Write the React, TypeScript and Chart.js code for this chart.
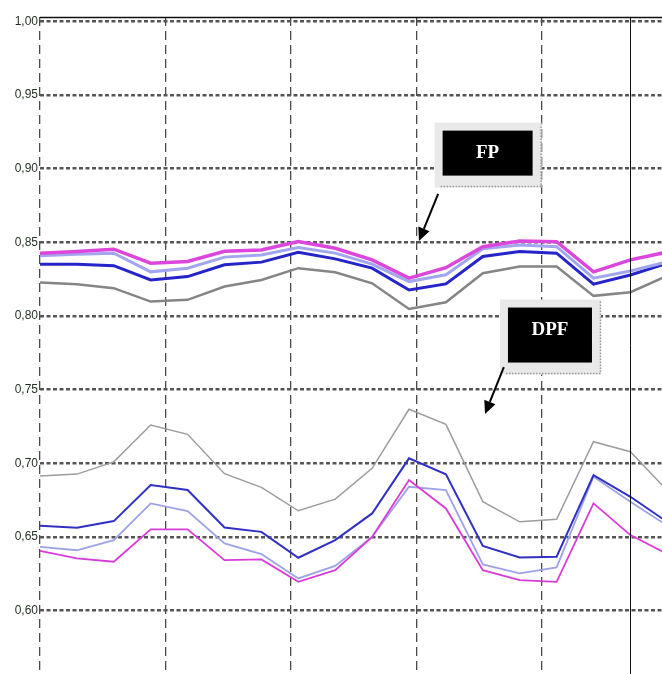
import React, { useEffect, useRef } from "react";
import { Chart, registerables } from "chart.js";

Chart.register(...registerables);

// sample index along the horizontal axis
const xIndex = [0, 1, 2, 3, 4, 5, 6, 7, 8, 9, 10, 11, 12, 13, 14, 15, 16, 17];
// vertical grid positions (in sample-index units)
const xGridValues = [0, 3.4, 6.8, 10.2, 13.6];
// y tick values and labels
const yTickValues = [0.6, 0.65, 0.7, 0.75, 0.8, 0.85, 0.9, 0.95, 1.0];
const yTickLabels = ["0,60", "0,65", "0,70", "0,75", "0,80", "0,85", "0,90", "0,95", "1,00"];

// FP group (upper)
const fpMagenta = [0.8427, 0.8438, 0.8454, 0.8359, 0.837, 0.844, 0.8449, 0.8505, 0.846, 0.8381, 0.8257, 0.8328, 0.8471, 0.851, 0.8505, 0.83, 0.8381, 0.8435];
const fpLightBlue = [0.841, 0.842, 0.8427, 0.83, 0.8325, 0.84, 0.8415, 0.8465, 0.8427, 0.8352, 0.8234, 0.828, 0.8456, 0.8483, 0.8471, 0.8257, 0.8306, 0.8368];
const fpBlue = [0.8352, 0.8352, 0.8342, 0.8245, 0.8268, 0.8348, 0.8366, 0.8433, 0.8388, 0.8325, 0.8177, 0.8218, 0.8404, 0.8438, 0.8427, 0.8216, 0.8279, 0.8358];
const fpGray = [0.8227, 0.8216, 0.8189, 0.8098, 0.811, 0.82, 0.8245, 0.8325, 0.8297, 0.8222, 0.8048, 0.8093, 0.8291, 0.8336, 0.8336, 0.8137, 0.8162, 0.8273];

// DPF group (lower)
const dpfGray = [0.6914, 0.6927, 0.701, 0.726, 0.7197, 0.693, 0.6837, 0.6678, 0.6757, 0.6966, 0.7367, 0.7265, 0.674, 0.6603, 0.662, 0.7147, 0.7079, 0.6815];
const dpfBlue = [0.6576, 0.6563, 0.6608, 0.6853, 0.6819, 0.6565, 0.6535, 0.6359, 0.6479, 0.666, 0.7034, 0.6925, 0.644, 0.6361, 0.6366, 0.692, 0.6773, 0.6602];
const dpfLightBlue = [0.6433, 0.641, 0.6479, 0.6728, 0.6676, 0.6457, 0.6384, 0.6219, 0.6304, 0.6501, 0.6841, 0.6819, 0.6314, 0.6253, 0.6294, 0.6909, 0.6739, 0.6577];
const dpfMagenta = [0.6406, 0.6355, 0.6332, 0.6552, 0.6552, 0.6343, 0.6348, 0.6196, 0.6275, 0.65, 0.6887, 0.6694, 0.6275, 0.6207, 0.6196, 0.6728, 0.6513, 0.6385];

const annotations = [
  { label: "FP", x: 12.13, y: 0.9106, w: 90, h: 45, textDy: 0, from: [10.79, 0.883], to: [10.27, 0.851] },
  { label: "DPF", x: 13.82, y: 0.7871, w: 84, h: 55, textDy: -5, from: [12.57, 0.7654], to: [12.06, 0.7335] },
];

const toPoints = (arr: number[]) => arr.map((v, i) => ({ x: xIndex[i], y: v }));

const extrasPlugin = {
  id: "extras",
  afterDatasetsDraw(chart: any) {
    const { ctx, chartArea, scales } = chart;
    const xs = scales.x;
    const ys = scales.y;
    ctx.save();
    // top solid border
    ctx.strokeStyle = "#111";
    ctx.lineWidth = 1.5;
    ctx.setLineDash([]);
    ctx.beginPath();
    ctx.moveTo(chartArea.left, chartArea.top + 0.5);
    ctx.lineTo(chartArea.right, chartArea.top + 0.5);
    ctx.stroke();
    // solid vertical line
    const sx = Math.round(xs.getPixelForValue(16)) + 0.5;
    ctx.lineWidth = 1;
    ctx.beginPath();
    ctx.moveTo(sx, chartArea.top);
    ctx.lineTo(sx, chartArea.bottom);
    ctx.stroke();

    for (const a of annotations) {
      const cx = xs.getPixelForValue(a.x);
      const cy = ys.getPixelForValue(a.y);
      const l = cx - a.w / 2;
      const t = cy - a.h / 2;
      // frame
      ctx.fillStyle = "#e9e9e9";
      ctx.fillRect(l - 8, t - 8, a.w + 17, a.h + 20);
      ctx.strokeStyle = "#9a9a9a";
      ctx.lineWidth = 1.5;
      ctx.setLineDash([1.5, 1.5]);
      ctx.beginPath();
      ctx.moveTo(l - 2, t + a.h + 11);
      ctx.lineTo(l + a.w + 8.5, t + a.h + 11);
      ctx.lineTo(l + a.w + 8.5, t - 6);
      ctx.stroke();
      ctx.setLineDash([]);
      // black box
      ctx.fillStyle = "#000";
      ctx.fillRect(l, t, a.w, a.h);
      ctx.fillStyle = "#fff";
      ctx.font = "bold 19px 'Liberation Serif', 'Times New Roman', serif";
      ctx.textAlign = "center";
      ctx.textBaseline = "middle";
      ctx.fillText(a.label, cx, cy + a.textDy);
      // arrow
      const x1 = xs.getPixelForValue(a.from[0]);
      const y1 = ys.getPixelForValue(a.from[1]);
      const x2 = xs.getPixelForValue(a.to[0]);
      const y2 = ys.getPixelForValue(a.to[1]);
      const ang = Math.atan2(y2 - y1, x2 - x1);
      const head = 13;
      const hx = x2 - head * Math.cos(ang);
      const hy = y2 - head * Math.sin(ang);
      ctx.strokeStyle = "#000";
      ctx.lineWidth = 2;
      ctx.beginPath();
      ctx.moveTo(x1, y1);
      ctx.lineTo(hx, hy);
      ctx.stroke();
      ctx.fillStyle = "#000";
      ctx.beginPath();
      ctx.moveTo(x2, y2);
      ctx.lineTo(hx + 6 * Math.cos(ang + Math.PI / 2), hy + 6 * Math.sin(ang + Math.PI / 2));
      ctx.lineTo(hx + 6 * Math.cos(ang - Math.PI / 2), hy + 6 * Math.sin(ang - Math.PI / 2));
      ctx.closePath();
      ctx.fill();
    }
    ctx.restore();
  },
};

export default function App() {
  const ref = useRef<HTMLCanvasElement | null>(null);

  useEffect(() => {
    if (!ref.current) return;
    const mk = (label: string, data: number[], color: string, width: number, order: number) => ({
      label,
      data: toPoints(data),
      borderColor: color,
      backgroundColor: color,
      borderWidth: width,
      pointRadius: 0,
      tension: 0,
      fill: false,
      order,
    });
    const chart = new Chart(ref.current, {
      type: "line",
      data: {
        datasets: [
          mk("FP gray", fpGray, "#858585", 2.5, 8),
          mk("FP blue", fpBlue, "#2424c8", 3, 7),
          mk("FP light blue", fpLightBlue, "#a2a6ee", 3, 6),
          mk("FP magenta", fpMagenta, "#dc46dc", 3.5, 5),
          mk("DPF gray", dpfGray, "#9c9c9c", 1.5, 4),
          mk("DPF light blue", dpfLightBlue, "#9ea2e6", 1.8, 3),
          mk("DPF blue", dpfBlue, "#3030c4", 2, 2),
          mk("DPF magenta", dpfMagenta, "#d83cd8", 1.8, 1),
        ],
      },
      options: {
        animation: false,
        responsive: false,
        devicePixelRatio: 1,
        layout: { padding: { top: 17, left: 0, right: 0, bottom: 0 } },
        plugins: { legend: { display: false }, tooltip: { enabled: false } },
        scales: {
          x: {
            type: "linear",
            min: 0,
            max: 16.856,
            afterBuildTicks: (s: any) => {
              s.ticks = xGridValues.map((v) => ({ value: v }));
            },
            afterFit: (s: any) => {
              s.height = 0;
              s.paddingLeft = 0;
              s.paddingRight = 0;
            },
            ticks: { display: false },
            grid: { color: "#4a4a4a", lineWidth: 1.3, drawTicks: false },
            border: { display: false, dash: [9, 5] },
          },
          y: {
            type: "linear",
            min: 0.557,
            max: 1.003,
            afterBuildTicks: (s: any) => {
              s.ticks = yTickValues.map((v) => ({ value: v }));
            },
            afterFit: (s: any) => {
              s.width = 40;
              s.paddingTop = 0;
              s.paddingBottom = 0;
            },
            ticks: {
              padding: 2,
              color: "#1f2f1f",
              font: { family: "'Liberation Sans', Arial, sans-serif", size: 12 },
              callback: (v: any) => {
                const i = yTickValues.findIndex((t) => Math.abs(t - v) < 1e-6);
                return i >= 0 ? yTickLabels[i] : "";
              },
            },
            grid: { color: "#555", lineWidth: 2.5, drawTicks: false },
            border: { display: false, dash: [4, 2.5] },
          },
        },
      },
      plugins: [extrasPlugin],
    } as any);
    return () => chart.destroy();
  }, []);

  return (
    <div style={{ position: "fixed", left: 0, top: 0, width: 662, height: 674, background: "#fff" }}>
      <canvas ref={ref} width={662} height={674} style={{ display: "block", width: 662, height: 674 }} />
    </div>
  );
}
